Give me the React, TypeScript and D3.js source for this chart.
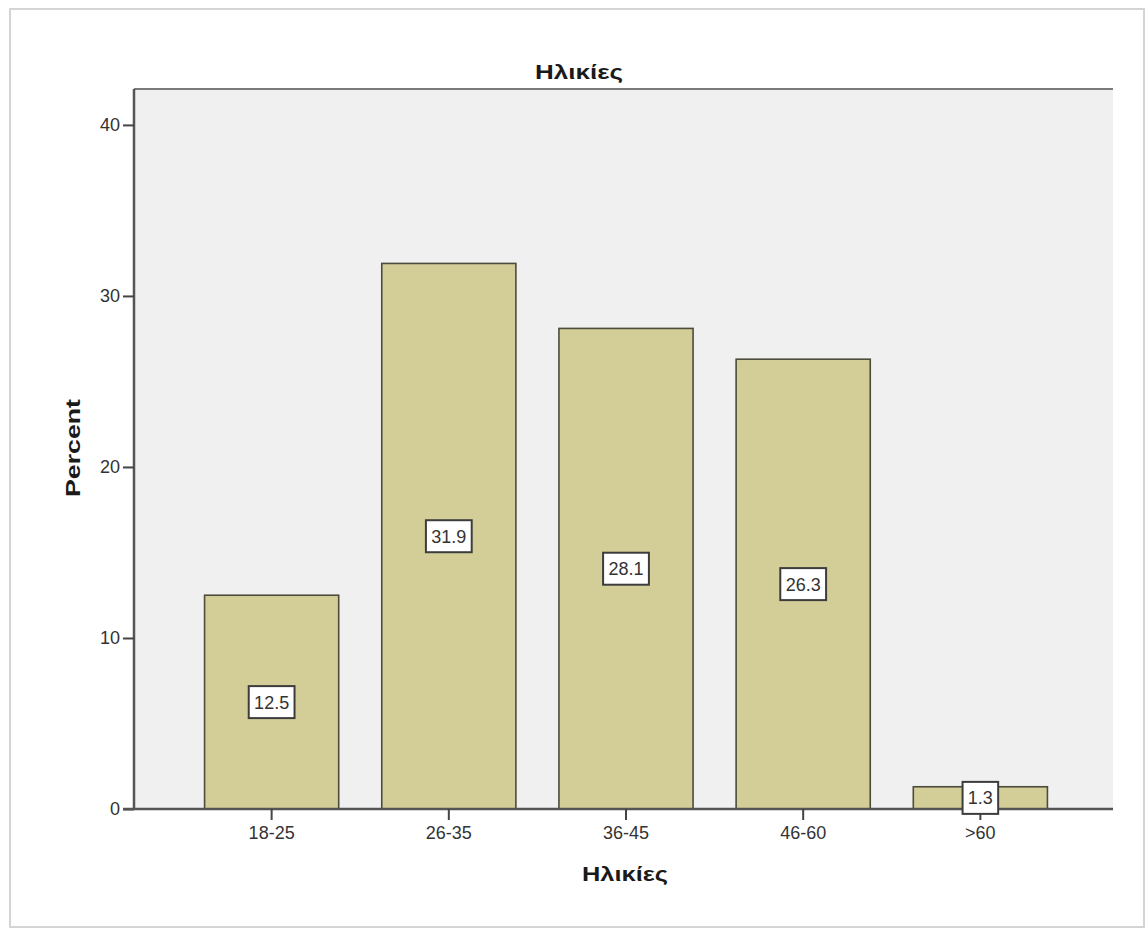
import React, { useEffect, useRef } from "react";
import * as d3 from "d3";

// Age groups and their share of respondents (%)
const categories: string[] = ["18-25", "26-35", "36-45", "46-60", ">60"];
const percents: number[] = [12.5, 31.9, 28.1, 26.3, 1.3];
const yTicks: number[] = [0, 10, 20, 30, 40];

const chartTitle = "Ηλικίες";
const xTitle = "Ηλικίες";
const yTitle = "Percent";

const W = 1146;
const H = 929;
const FONT = "'Liberation Sans', Arial, Helvetica, sans-serif";

export default function App() {
  const ref = useRef<SVGSVGElement | null>(null);

  useEffect(() => {
    const svg = d3.select(ref.current);
    svg.selectAll("*").remove();

    const plot = { left: 134, right: 1113, top: 89, bottom: 809 };

    // outer frame
    svg
      .append("rect")
      .attr("x", 10)
      .attr("y", 9)
      .attr("width", 1134)
      .attr("height", 918)
      .attr("fill", "#ffffff")
      .attr("stroke", "#d4d4d4")
      .attr("stroke-width", 2);

    // plot background
    svg
      .append("rect")
      .attr("x", plot.left)
      .attr("y", plot.top)
      .attr("width", plot.right - plot.left)
      .attr("height", plot.bottom - plot.top)
      .attr("fill", "#f0f0f0");

    const x = d3
      .scaleBand<string>()
      .domain(categories)
      .range([plot.left + 2, plot.right + 3])
      .paddingInner(0.243)
      .paddingOuter(0.387);

    const y = d3.scaleLinear().domain([0, 42.1]).range([plot.bottom, plot.top]);

    // top border of plot
    svg
      .append("line")
      .attr("x1", plot.left)
      .attr("x2", plot.right)
      .attr("y1", plot.top)
      .attr("y2", plot.top)
      .attr("stroke", "#7a7a7a")
      .attr("stroke-width", 2);

    // bars
    svg
      .append("g")
      .selectAll("rect")
      .data(percents)
      .join("rect")
      .attr("x", (_, i) => x(categories[i])!)
      .attr("y", (d) => y(d))
      .attr("width", x.bandwidth())
      .attr("height", (d) => y(0) - y(d))
      .attr("fill", "#d3ce97")
      .attr("stroke", "#4d4b3c")
      .attr("stroke-width", 1.6);

    // y axis
    const yAxis = svg
      .append("g")
      .attr("transform", `translate(${plot.left},0)`)
      .call(
        d3
          .axisLeft(y)
          .tickValues(yTicks)
          .tickSize(11)
          .tickPadding(3)
          .tickFormat(d3.format("d"))
      );
    yAxis.select(".domain").attr("stroke", "#555555").attr("stroke-width", 2.5)
      .attr("d", `M0,${plot.top}V${plot.bottom}`);
    yAxis.selectAll(".tick line").attr("stroke", "#444444").attr("stroke-width", 2);
    yAxis
      .selectAll(".tick text")
      .attr("font-family", FONT)
      .attr("font-size", 18)
      .attr("fill", "#333333");

    // x axis
    const xAxis = svg
      .append("g")
      .attr("transform", `translate(0,${plot.bottom})`)
      .call(d3.axisBottom(x).tickSize(11).tickPadding(6));
    xAxis.select(".domain").attr("stroke", "#555555").attr("stroke-width", 2.5)
      .attr("d", `M${plot.left - 11},0H${plot.right}`);
    xAxis.selectAll(".tick line").attr("stroke", "#444444").attr("stroke-width", 2);
    xAxis
      .selectAll(".tick text")
      .attr("font-family", FONT)
      .attr("font-size", 18)
      .attr("fill", "#333333");

    // value labels in boxes at mid-height of each bar
    const labels = svg.append("g");
    percents.forEach((v, i) => {
      const cx = x(categories[i])! + x.bandwidth() / 2;
      const cy = y(v / 2);
      const g = labels.append("g").attr("transform", `translate(${cx},${cy})`);
      const txt = v.toFixed(1);
      const tw = txt.length * 10.2 - (txt.includes(".") ? 5 : 0);
      const bw = tw + 10;
      g.append("rect")
        .attr("x", -bw / 2)
        .attr("y", -16)
        .attr("width", bw)
        .attr("height", 32)
        .attr("fill", "#ffffff")
        .attr("stroke", "#3c3c3c")
        .attr("stroke-width", 2);
      g.append("text")
        .attr("text-anchor", "middle")
        .attr("dy", "0.36em")
        .attr("font-family", FONT)
        .attr("font-size", 18)
        .attr("fill", "#333333")
        .text(txt);
    });

    // titles
    svg
      .append("text")
      .attr("x", 579)
      .attr("y", 79)
      .attr("text-anchor", "middle")
      .attr("font-family", FONT)
      .attr("font-weight", "bold")
      .attr("font-size", 21)
      .attr("textLength", 88)
      .attr("lengthAdjust", "spacingAndGlyphs")
      .attr("fill", "#1a1a1a")
      .text(chartTitle);

    svg
      .append("text")
      .attr("x", 625)
      .attr("y", 881)
      .attr("text-anchor", "middle")
      .attr("font-family", FONT)
      .attr("font-weight", "bold")
      .attr("font-size", 21)
      .attr("textLength", 86)
      .attr("lengthAdjust", "spacingAndGlyphs")
      .attr("fill", "#1a1a1a")
      .text(xTitle);

    svg
      .append("text")
      .attr("transform", `translate(80,448) rotate(-90)`)
      .attr("text-anchor", "middle")
      .attr("font-family", FONT)
      .attr("font-weight", "bold")
      .attr("font-size", 21)
      .attr("textLength", 98)
      .attr("lengthAdjust", "spacingAndGlyphs")
      .attr("fill", "#1a1a1a")
      .text(yTitle);
  }, []);

  return (
    <svg
      ref={ref}
      width={W}
      height={H}
      style={{ position: "absolute", left: 0, top: 0, background: "#ffffff" }}
    />
  );
}
